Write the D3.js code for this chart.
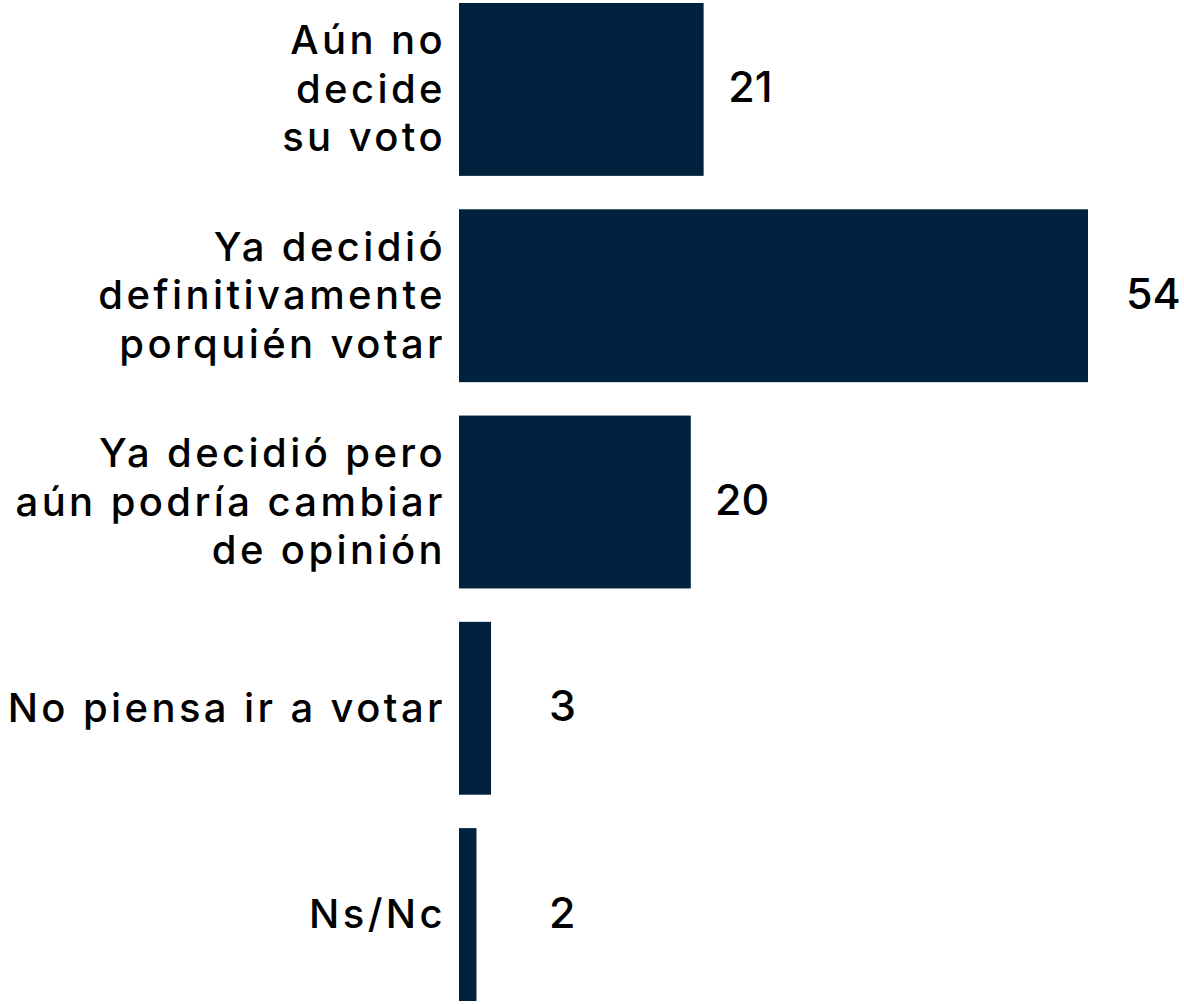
<!DOCTYPE html>
<html>
<head>
<meta charset="utf-8">
<script src="https://cdnjs.cloudflare.com/ajax/libs/d3/7.8.5/d3.min.js"></script>
<style>
  body { margin: 0; background: #fff; }
  .label, .valor { font-family: Inter, "Noto Sans", sans-serif; font-weight: 500; fill: #000; }
  .label { letter-spacing: 3.4px; }
</style>
</head>
<body>
<div class="chart-decision"><svg></svg></div>
<script>
// Categorias (cada una partida en lineas como en el original)
const categorias = [
    ['Aún no', 'decide', 'su voto'],
    ['Ya decidió', 'definitivamente', 'porquién votar'],
    ['Ya decidió pero', 'aún podría cambiar', 'de opinión'],
    ['No piensa ir a votar'],
    ['Ns/Nc']
];
const valores = [21, 54, 19.9, 2.75, 1.5];
const etiquetas = ['21', '54', '20', '3', '2'];

const w = 1184;
const h = 1004;
const margin = { top: 3, right: 96, bottom: 3, left: 459 };

const svg = d3.select('.chart-decision svg')
    .attr('width', w)
    .attr('height', h);

const datos = categorias.map((c, i) => ({ id: i, lineas: c, valor: valores[i], texto: etiquetas[i] }));

// escalas
const y = d3.scaleBand()
    .domain(datos.map(d => d.id))
    .range([margin.top, h - margin.bottom])
    .paddingInner(0.162)
    .paddingOuter(0);

const x = d3.scaleLinear()
    .domain([0, d3.max(valores)])
    .range([margin.left, w - margin.right]);

// las cifras no van pegadas a la barra, tienen su propia escala
const xEtiqueta = d3.scaleLinear()
    .domain([0, d3.max(valores)])
    .range([x(0) + 16, x(d3.max(valores)) + 38]);

svg.selectAll('.bar')
    .data(datos)
    .enter()
    .append('rect')
    .attr('class', 'bar')
    .attr('x', x(0))
    .attr('y', d => y(d.id))
    .attr('width', d => x(d.valor) - x(0))
    .attr('height', y.bandwidth())
    .attr('fill', '#01223e');

svg.selectAll('.valor')
    .data(datos)
    .enter()
    .append('text')
    .attr('class', 'valor')
    .attr('x', d => Math.max(xEtiqueta(d.valor), x(0) + 90))
    .attr('y', d => y(d.id) + y.bandwidth() / 2 + 13)
    .attr('font-size', 43)
    .text(d => d.texto);

const lineHeight = 48.5;

const grupos = svg.selectAll('.label')
    .data(datos)
    .enter()
    .append('text')
    .attr('class', 'label')
    .attr('font-size', 40)
    .attr('text-anchor', 'end');

grupos.selectAll('tspan')
    .data(d => d.lineas.map((l, i) => ({ l: l, i: i, n: d.lineas.length, id: d.id })))
    .enter()
    .append('tspan')
    .attr('x', x(0) - 13)
    .attr('y', t => y(t.id) + y.bandwidth() / 2 + 13.5 + (t.i - (t.n - 1) / 2) * lineHeight)
    .text(t => t.l);
</script>
</body>
</html>
